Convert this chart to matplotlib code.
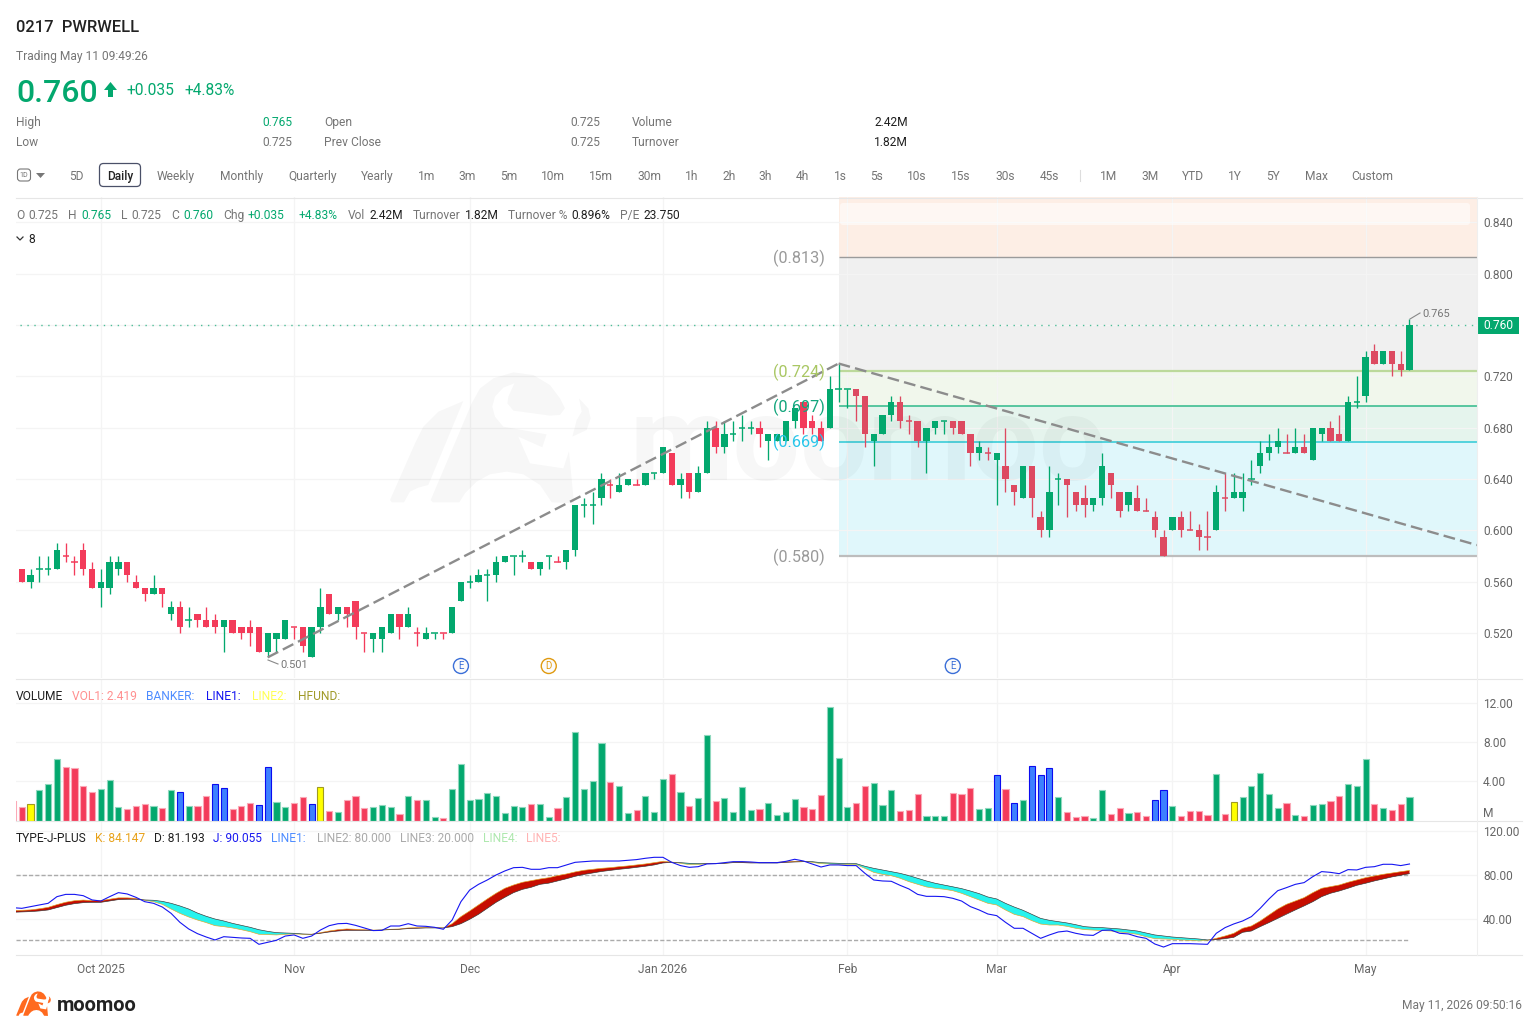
"""Daily candlestick screen for 0217 PWRWELL: price + fib levels, volume, KDJ."""

import matplotlib

matplotlib.use("Agg")
import matplotlib.pyplot as plt
from matplotlib.patches import FancyBboxPatch, Polygon, Rectangle, Circle

plt.rcParams["font.family"] = ["Roboto", "DejaVu Sans"]

W, H = 1538, 1031
GREEN = "#03a86e"
RED = "#f33b5a"
RED_FIB = "#dd4a61"  # the fib shading sits over the candles and mutes the red
TEXT = "#1f1f1f"
GRAY = "#757575"
TICK = "#666666"
GRID = "#f4f4f4"

OPEN = [
    .575, .570, .560, .570, .570, .570, .580, .575, .585, .570,
    .555, .555, .570, .575, .560, .555, .550, .555, .535, .540,
    .530, .535, .530, .530, .525, .530, .525, .525, .525, .505,
    .515, .515, .525, .525, .501, .525, .550, .535, .540, .545,
    .520, .515, .515, .520, .535, .525, .520, .515, .520, .520,
    .520, .545, .560, .560, .565, .565, .575, .580, .580, .575,
    .570, .580, .575, .575, .585, .620, .620, .625, .635, .630,
    .635, .635, .635, .645, .645, .660, .635, .645, .630, .645,
    .680, .665, .675, .680, .680, .680, .670, .670, .670, .685,
    .700, .685, .680, .680, .710, .710, .710, .705, .670, .675,
    .690, .700, .685, .685, .670, .680, .685, .685, .685, .675,
    .660, .660, .655, .650, .635, .625, .650, .610, .600, .640,
    .640, .630, .625, .620, .625, .645, .630, .620, .625, .615,
    .610, .595, .600, .610, .600, .600, .595, .600, .625, .625,
    .625, .640, .650, .660, .665, .660, .660, .665, .655, .675,
    .680, .675, .670, .700, .705, .740, .730, .740, .730, .725,
]
HIGH = [
    .575, .570, .570, .580, .580, .590, .590, .580, .590, .575,
    .570, .580, .580, .575, .565, .555, .565, .555, .545, .545,
    .540, .535, .540, .535, .530, .530, .525, .530, .525, .520,
    .520, .530, .525, .525, .525, .555, .550, .540, .540, .545,
    .520, .520, .525, .535, .535, .540, .525, .525, .520, .520,
    .540, .560, .565, .570, .570, .580, .580, .580, .585, .575,
    .575, .580, .580, .585, .620, .625, .630, .645, .640, .645,
    .640, .640, .645, .645, .665, .660, .645, .645, .650, .685,
    .685, .685, .685, .690, .685, .685, .675, .675, .685, .695,
    .700, .690, .685, .720, .730, .710, .710, .705, .675, .690,
    .705, .705, .690, .685, .680, .685, .685, .685, .685, .675,
    .670, .665, .660, .680, .635, .650, .650, .615, .650, .645,
    .640, .630, .635, .625, .660, .645, .630, .630, .635, .625,
    .615, .600, .610, .615, .615, .605, .615, .635, .645, .645,
    .645, .655, .670, .675, .680, .675, .680, .675, .680, .680,
    .685, .690, .705, .720, .740, .745, .740, .740, .740, .765,
]
LOW = [
    .570, .560, .555, .560, .565, .570, .575, .565, .565, .555,
    .540, .550, .565, .560, .555, .545, .550, .540, .530, .520,
    .525, .525, .525, .520, .505, .520, .515, .510, .505, .501,
    .505, .515, .515, .505, .501, .520, .535, .530, .525, .515,
    .505, .505, .505, .520, .515, .525, .510, .515, .515, .515,
    .520, .545, .555, .560, .545, .560, .575, .565, .575, .570,
    .565, .570, .575, .570, .580, .610, .605, .620, .625, .630,
    .635, .635, .635, .640, .645, .635, .625, .625, .630, .645,
    .660, .660, .670, .670, .675, .665, .655, .670, .670, .680,
    .675, .675, .670, .680, .700, .695, .685, .665, .650, .675,
    .685, .680, .675, .665, .645, .675, .675, .675, .675, .650,
    .655, .655, .620, .630, .620, .625, .610, .595, .595, .620,
    .610, .615, .610, .615, .620, .625, .610, .615, .615, .615,
    .595, .580, .600, .595, .600, .585, .585, .600, .615, .625,
    .615, .635, .645, .655, .660, .660, .660, .660, .655, .670,
    .670, .670, .670, .695, .700, .730, .730, .720, .720, .725,
]
CLOSE = [
    .570, .560, .565, .570, .570, .585, .580, .575, .570, .555,
    .560, .575, .575, .565, .555, .550, .555, .550, .540, .525,
    .530, .530, .525, .525, .530, .520, .520, .520, .505, .520,
    .520, .530, .525, .510, .525, .540, .535, .540, .535, .525,
    .520, .520, .525, .535, .525, .535, .520, .520, .520, .520,
    .540, .560, .560, .565, .565, .575, .580, .580, .580, .570,
    .575, .580, .575, .585, .620, .620, .620, .640, .635, .635,
    .640, .635, .645, .645, .665, .635, .640, .630, .645, .680,
    .665, .675, .675, .680, .680, .675, .675, .675, .685, .695,
    .680, .680, .670, .710, .710, .710, .705, .675, .675, .690,
    .700, .685, .685, .670, .680, .685, .685, .680, .675, .660,
    .665, .660, .660, .640, .630, .650, .625, .600, .630, .640,
    .635, .620, .620, .625, .650, .635, .615, .630, .615, .615,
    .600, .580, .610, .600, .600, .595, .595, .630, .625, .630,
    .630, .640, .660, .665, .670, .660, .665, .660, .680, .680,
    .670, .670, .700, .700, .735, .730, .740, .730, .725, .760,
]
# open == close candles the chart paints red
RED_DOJI = [6, 7, 32, 40, 46, 49, 62, 68, 71, 102, 111, 129, 134, 136, 138, 145]

VOLUME = [
    2.00, 1.37, 1.71, 3.08, 3.69, 6.32, 5.44, 5.37, 3.49, 2.87,
    3.21, 4.17, 1.40, 1.16, 1.50, 1.74, 1.50, 1.26, 3.15, 2.97,
    1.50, 1.50, 2.53, 3.76, 3.38, 1.13, 1.47, 1.81, 1.61, 5.44,
    1.91, 1.40, 1.78, 2.39, 1.71, 3.42, 0.99, 0.92, 2.09, 2.53,
    1.30, 1.37, 1.61, 1.40, 0.68, 2.53, 2.15, 2.15, 0.34, 0.21,
    3.18, 5.81, 2.05, 2.22, 2.84, 2.56, 0.79, 1.50, 1.37, 1.71,
    1.68, 0.34, 1.30, 2.43, 9.09, 3.18, 4.07, 7.93, 3.97, 3.52,
    0.79, 1.09, 2.53, 0.89, 4.27, 4.79, 2.94, 1.50, 2.26, 8.72,
    2.02, 2.29, 0.85, 3.45, 1.03, 1.20, 1.81, 0.55, 0.82, 2.22,
    1.40, 1.13, 2.60, 11.60, 6.43, 1.40, 1.78, 3.56, 3.83, 1.61,
    3.08, 0.99, 1.03, 2.70, 0.44, 0.48, 0.48, 2.80, 2.67, 3.28,
    1.13, 1.23, 4.68, 3.18, 1.81, 2.12, 5.61, 4.68, 5.40, 2.36,
    0.89, 0.38, 0.48, 0.24, 3.08, 0.62, 1.30, 0.79, 0.89, 0.51,
    2.12, 3.15, 1.50, 0.41, 0.96, 0.96, 0.55, 4.72, 0.62, 1.85,
    2.36, 3.56, 4.82, 2.67, 1.23, 1.81, 0.58, 0.41, 1.57, 1.74,
    1.98, 2.53, 3.69, 3.49, 6.29, 1.71, 1.30, 1.03, 1.71, 2.419,
]
VOL_KIND = (
    "rrygggrrrr" "gggrrrgrgb" "grrbbrrrbb" "ggrrbyrgrr" "rgggrgrggr"
    "gggggggggr" "ggrgggggrg" "grgggrgrgg" "rggggrgggg" "rrrgggrrgg"
    "grrrgggrrr" "ggbrbgbbbg" "rrrggrrgrr" "bbgrrrrgry" "gggggrgrgg"
    "rrgggrgrrg"
)

K_LINE = [
    47.5, 47.6, 48.0, 49.0, 50.3, 52.8, 55.0, 56.4, 57.0, 56.5,
    56.5, 57.8, 59.0, 59.0, 58.6, 56.8, 55.5, 53.1, 48.8, 44.8,
    41.5, 38.7, 36.3, 33.5, 32.6, 31.4, 29.8, 28.0, 25.6, 25.3,
    25.0, 25.6, 25.9, 25.6, 25.6, 27.1, 28.6, 29.8, 30.5, 30.2,
    29.8, 29.5, 29.5, 30.2, 30.5, 31.4, 31.7, 31.7, 31.7, 31.4,
    35.3, 41.8, 47.0, 52.5, 58.0, 63.2, 67.8, 70.8, 73.3, 74.8,
    76.3, 77.5, 79.4, 80.9, 82.8, 84.3, 85.2, 86.1, 86.7, 87.6,
    88.3, 89.2, 90.1, 91.3, 92.5, 91.9, 90.7, 89.5, 89.5, 90.4,
    90.4, 90.7, 91.6, 91.9, 91.6, 91.3, 91.3, 91.6, 92.2, 92.5,
    92.5, 91.6, 90.4, 90.1, 89.8, 89.5, 89.5, 86.1, 82.4, 80.6,
    79.4, 77.0, 73.9, 71.4, 69.0, 67.8, 66.9, 65.6, 63.2, 60.1,
    57.1, 54.0, 52.5, 47.9, 43.9, 41.8, 38.1, 35.0, 34.1, 34.1,
    32.9, 31.1, 29.9, 29.5, 29.2, 28.6, 27.7, 26.8, 25.6, 23.4,
    21.6, 21.3, 21.0, 20.4, 20.1, 19.5, 20.1, 21.9, 24.0, 26.5,
    31.1, 33.2, 37.8, 43.3, 48.8, 53.1, 56.1, 59.2, 63.8, 67.8,
    69.3, 70.8, 73.3, 75.4, 77.5, 79.1, 80.6, 81.8, 83.1, 84.147,
]
D_LINE = [
    45.8, 46.1, 46.4, 47.0, 47.9, 50.0, 52.2, 53.7, 54.6, 54.9,
    54.9, 56.1, 57.4, 57.7, 57.7, 57.1, 56.8, 55.8, 54.0, 51.6,
    48.8, 45.1, 42.1, 39.6, 37.8, 35.6, 33.8, 32.0, 29.8, 28.3,
    27.1, 26.8, 26.5, 25.9, 25.6, 26.5, 27.7, 28.6, 29.2, 29.2,
    29.2, 29.2, 29.5, 29.8, 30.2, 30.8, 31.1, 31.4, 31.4, 31.4,
    32.6, 35.3, 39.3, 43.9, 49.4, 54.9, 59.5, 63.8, 66.8, 68.7,
    71.4, 72.5, 74.5, 76.5, 78.8, 80.5, 81.8, 83.2, 84.2, 85.2,
    86.0, 87.0, 88.0, 89.2, 91.0, 91.6, 91.3, 90.7, 90.4, 90.4,
    90.4, 90.7, 91.3, 91.3, 91.0, 91.0, 91.0, 91.0, 91.6, 91.9,
    92.2, 92.2, 91.3, 91.0, 90.7, 90.4, 90.4, 88.0, 86.1, 84.6,
    83.1, 81.5, 79.4, 77.0, 74.5, 72.4, 70.8, 69.3, 67.5, 65.3,
    62.9, 59.8, 58.0, 54.0, 50.6, 47.6, 43.9, 40.2, 38.4, 37.2,
    36.0, 34.4, 32.6, 32.0, 31.7, 31.1, 30.5, 29.5, 28.6, 26.8,
    25.0, 24.0, 23.1, 22.5, 21.9, 21.3, 20.4, 20.7, 21.6, 22.8,
    27.4, 28.6, 32.6, 36.3, 40.2, 44.2, 47.9, 51.6, 55.5, 60.1,
    63.2, 65.3, 67.8, 70.5, 72.4, 74.5, 76.3, 78.2, 79.7, 81.193,
]
J_LINE = [
    50.0, 49.4, 51.0, 52.5, 54.0, 60.1, 62.2, 62.2, 61.0, 57.1,
    56.1, 60.1, 63.8, 62.6, 59.5, 55.5, 54.0, 50.6, 44.8, 36.6,
    30.5, 26.2, 23.1, 20.4, 23.4, 22.8, 22.2, 21.9, 16.4, 18.2,
    20.1, 24.0, 25.0, 21.9, 24.0, 29.5, 33.5, 35.3, 35.6, 33.8,
    31.4, 29.0, 29.2, 33.2, 33.2, 35.3, 33.2, 32.9, 32.0, 30.2,
    38.7, 55.5, 66.2, 71.4, 75.4, 80.0, 83.7, 86.7, 87.0, 85.2,
    85.2, 86.7, 86.7, 89.2, 91.6, 92.2, 92.8, 92.8, 92.8, 92.8,
    93.5, 94.1, 95.3, 96.2, 96.2, 91.6, 88.6, 87.0, 87.6, 90.1,
    90.4, 91.3, 92.2, 92.2, 91.9, 91.3, 91.3, 91.3, 92.5, 94.4,
    92.8, 90.1, 87.3, 89.2, 89.2, 88.6, 88.6, 81.5, 75.4, 74.5,
    74.2, 70.5, 67.2, 62.2, 60.4, 60.4, 60.1, 58.6, 56.1, 51.0,
    47.9, 44.2, 42.7, 36.6, 31.1, 31.1, 26.5, 21.9, 25.0, 27.7,
    28.6, 26.5, 25.0, 24.6, 29.2, 29.5, 26.5, 25.9, 23.4, 21.9,
    16.7, 13.9, 17.0, 17.0, 17.0, 16.7, 16.4, 26.5, 31.7, 35.1,
    37.8, 41.8, 49.4, 58.0, 65.6, 68.4, 71.4, 73.0, 78.5, 83.1,
    82.4, 81.2, 84.9, 84.6, 87.0, 87.6, 89.8, 89.8, 88.6, 90.055,
]

PRICE_TICKS = [0.84, 0.80, 0.76, 0.72, 0.68, 0.64, 0.60, 0.56, 0.52]
PRICE_TICK_LABELS = ["0.840", "0.800", "", "0.720", "0.680", "0.640", "0.600", "0.560", "0.520"]
VOL_TICKS = [12, 8, 4]
KDJ_TICKS = [120, 80, 40]
MONTH_IDX = [10, 32, 52, 74, 95, 112, 132, 154]
MONTH_LABELS = ["Oct 2025", "Nov", "Dec", "Jan 2026", "Feb", "Mar", "Apr", "May"]
FIB_LEVELS = [0.813, 0.724, 0.697, 0.669, 0.580]
FIB_LABELS = ["(0.813)", "(0.724)", "(0.697)", "(0.669)", "(0.580)"]
FIB_TEXT = ["#9a9a9a", "#a9c763", "#12a57c", "#28c6ea", "#9a9a9a"]
FIB_LINE = ["#9b9b9b", "#bcd99b", "#2fb98a", "#2dc9d6", "#bdbdbd"]
FIB_WIDTH = [1.0, 1.6, 1.1, 1.1, 1.6]
FIB_FILL = ["#fdeee5", "#f0f0f0", "#f1f7ec", "#e5f4ed", "#e0f7fb"]
TREND_IDX = [29, 94, 166.68]
TREND_PRICE = [0.501, 0.730, 0.5885]
EVENT_IDX = [51, 61, 107]
EVENT_TEXT = ["E", "D", "E"]
EVENT_COLOR = ["#3b6fd8", "#e09a10", "#3b6fd8"]

# bull mark outline, in its own 690x450 drawing box
BULL_WING = [(30, 405), (105, 235), (130, 185), (175, 140), (250, 108), (145, 360), (115, 368),
             (90, 380), (72, 412), (35, 412)]
BULL_BODY = [(152, 405), (275, 115), (300, 70), (340, 40), (400, 22), (460, 30), (510, 60), (540, 100),
             (555, 130), (540, 150), (510, 152), (400, 137), (382, 115), (385, 95), (403, 55), (370, 68),
             (345, 95), (337, 125), (345, 155), (370, 185), (500, 208), (487, 247), (415, 215), (450, 295),
             (550, 310), (567, 258), (582, 415), (515, 412), (480, 360), (430, 328), (380, 320), (330, 328),
             (290, 350), (255, 385), (238, 412), (158, 412)]
BULL_EAR = [(597, 100), (625, 130), (632, 160), (620, 195), (577, 215), (590, 165), (605, 140)]

X0, DX = 13.0, 8.783
FIRST_FIB = 94
XLIM = ((16 - X0) / DX, (1477 - X0) / DX)
idx = list(range(len(CLOSE)))


def px_axes(left, top, right, bottom, ylim):
    a = fig.add_axes([left / W, 1 - bottom / H, (right - left) / W, (bottom - top) / H])
    a.set_xlim(*XLIM)
    a.set_ylim(*ylim)
    a.set_xticks(MONTH_IDX)
    a.set_xticklabels([])
    a.yaxis.tick_right()
    a.tick_params(length=0, labelsize=8.6, labelcolor=TICK, pad=4.3)
    a.grid(True, color=GRID, lw=0.9)
    a.set_axisbelow(True)
    for s in a.spines.values():
        s.set_visible(False)
    a.patch.set_alpha(0)
    return a


def ui(x, y, s, color=TEXT, size=12, ha="left", weight="normal", va="center"):
    over.text(x, y + 0.9, s, color=color, fontsize=size * 0.72, ha=ha, va=va, fontweight=weight)


def bull(points, x0, y0, scale_x, scale_y):
    return [(x0 + x * scale_x, y0 + y * scale_y) for x, y in points]


fig = plt.figure(figsize=(W / 100, H / 100), dpi=100, facecolor="white")
over = fig.add_axes([0, 0, 1, 1], zorder=10)
over.set_xlim(0, W)
over.set_ylim(H, 0)
over.axis("off")
over.patch.set_alpha(0)

# --- price panel ---
ax = px_axes(16, 197, 1477, 678, (0.4849, 0.8598))
ax.set_yticks(PRICE_TICKS)
ax.set_yticklabels(PRICE_TICK_LABELS)

tops = [ax.get_ylim()[1]] + FIB_LEVELS[:-1]
for top, bot, col in zip(tops, FIB_LEVELS, FIB_FILL):
    ax.add_patch(Rectangle((FIRST_FIB, bot), XLIM[1] - FIRST_FIB, top - bot, fc=col, ec="none", zorder=0.5))
for lev, col, lw, lab, tcol in zip(FIB_LEVELS, FIB_LINE, FIB_WIDTH, FIB_LABELS, FIB_TEXT):
    ax.plot([FIRST_FIB, XLIM[1]], [lev, lev], color=col, lw=lw, zorder=1.2, solid_capstyle="butt")
    ax.text(FIRST_FIB - 1.6, lev - 0.0008, lab, color=tcol, fontsize=11.7, ha="right", va="center", zorder=4)
ax.add_patch(
    FancyBboxPatch(
        (840, 203), 630, 22, boxstyle="round,pad=0,rounding_size=3",
        fc="white", ec="none", alpha=0.55, transform=over.transData, zorder=1.1,
    )
)

# watermark
mark = dict(fc="black", ec="none", alpha=0.03, transform=over.transData, zorder=1.3)
for shape in (BULL_WING, BULL_BODY, BULL_EAR):
    ax.add_patch(Polygon(bull(shape, 380, 365, 1 / 3, 1 / 3), **mark))
ax.text(630, 480, "moomoo", color="black", alpha=0.03, fontsize=86, fontweight="bold",
        transform=over.transData, va="baseline", ha="left", zorder=1.3)

ax.plot([0, 166.68], [0.76, 0.76], color="#4dbd97", lw=1.0, ls=(0, (1, 4)), zorder=1.4)
ax.plot(TREND_IDX[:2], TREND_PRICE[:2], color="#8c8c8c", lw=1.7, ls=(0, (5, 2.2)), zorder=3)
ax.plot(TREND_IDX[1:], TREND_PRICE[1:], color="#8c8c8c", lw=1.7, ls=(0, (5, 2.2)), zorder=3)

for i, o, h, l, c in zip(idx, OPEN, HIGH, LOW, CLOSE):
    down = o > c or i in RED_DOJI
    col = (RED_FIB if i >= FIRST_FIB else RED) if down else GREEN
    ax.plot([i, i], [l, h], color=col, lw=0.95, zorder=2, solid_capstyle="butt")
    if o == c:
        ax.plot([i - 0.36, i + 0.36], [o, o], color=col, lw=1.1, zorder=2.1, solid_capstyle="butt")
    else:
        ax.bar(i, abs(o - c), bottom=min(o, c), width=0.72, color=col, zorder=2.1, lw=0)

for i, txt, col in zip(EVENT_IDX, EVENT_TEXT, EVENT_COLOR):
    px = X0 + DX * i
    over.add_patch(Circle((px, 666), 7.5, fc="#fbfbfb", ec=col, lw=1.0))
    over.text(px, 666, txt, color=col, fontsize=7, ha="center", va="center")

ui(280, 664, "0.501", GRAY, 11)
over.plot([268, 278], [660, 664], color="#888888", lw=0.8)
ui(1422, 313, "0.765", GRAY, 11)
over.plot([1410, 1420], [319, 313], color="#888888", lw=0.8)
over.add_patch(Rectangle((1478, 317), 41, 17, fc=GREEN, ec="none"))
ui(1498.5, 325, "0.760", "white", 12, ha="center")

# --- volume panel ---
vax = px_axes(16, 680, 1477, 820.5, (0, 14.4))
vax.set_yticks(VOL_TICKS)
vax.set_yticklabels([f"{v:.2f}" for v in VOL_TICKS])
FACE = {"g": GREEN, "r": RED, "b": "#3d80ff", "y": "#ffff00"}
EDGE = {"g": "#8fd8be", "r": "#fba9b7", "b": "#0b0bf0", "y": "#a09c20"}
for i, v, kind in zip(idx, VOLUME, VOL_KIND):
    vax.bar(i, v, width=0.70, color=FACE[kind], edgecolor=EDGE[kind], lw=0.8, zorder=2)
ui(1483, 813, "M", TICK, 12)

# --- KDJ panel ---
kax = px_axes(16, 821, 1477, 955, (6.6, 129.5))
kax.set_yticks(KDJ_TICKS)
kax.set_yticklabels([f"{v:.2f}" for v in KDJ_TICKS])
kax.set_xticklabels(MONTH_LABELS)
kax.tick_params(axis="x", pad=6)
for lev in (80, 20):
    kax.plot([XLIM[0], idx[-1]], [lev, lev], color="#ababab", lw=1.0, ls=(0, (3, 1.5)), zorder=1.5)
kax.fill_between(idx, K_LINE, D_LINE, where=[k >= d for k, d in zip(K_LINE, D_LINE)],
                 interpolate=True, color="#c60d00", lw=0, zorder=2)
kax.fill_between(idx, K_LINE, D_LINE, where=[k < d for k, d in zip(K_LINE, D_LINE)],
                 interpolate=True, color="#27f3ee", lw=0, zorder=2)
kax.plot(idx, K_LINE, color="#e2a526", lw=0.45, zorder=3)
kax.plot(idx, D_LINE, color="#333333", lw=0.45, zorder=3)
kax.plot(idx, J_LINE, color="#1616f2", lw=0.8, zorder=3)

# --- frame lines ---
for y in (197.5, 678.5, 820.5, 955):
    over.plot([16, 1522], [y, y], color="#e6e6e6", lw=0.8)
over.plot([1477, 1477], [197, 955], color="#efefef", lw=0.8)

# --- header ---
ui(16, 27, "0217  PWRWELL", "#222222", 16.5, weight="medium")
ui(16, 56, "Trading May 11 09:49:26", GRAY, 12)
ui(16, 93, "0.760", GREEN, 32, weight="medium")
over.add_patch(Polygon([(110.5, 82), (117, 90), (113, 90), (113, 97), (108, 97), (108, 90), (104, 90)], fc=GREEN, ec="none"))
ui(126, 89.5, "+0.035", GREEN, 15.5)
ui(184, 89.5, "+4.83%", GREEN, 15.5)

ui(16, 122, "High", GRAY, 12)
ui(292, 122, "0.765", GREEN, 12, ha="right")
ui(324, 122, "Open", GRAY, 12)
ui(600, 122, "0.725", GRAY, 12, ha="right")
ui(632, 122, "Volume", GRAY, 12)
ui(908, 122, "2.42M", TEXT, 12, ha="right")
ui(16, 142, "Low", GRAY, 12)
ui(292, 142, "0.725", GRAY, 12, ha="right")
ui(324, 142, "Prev Close", GRAY, 12)
ui(600, 142, "0.725", GRAY, 12, ha="right")
ui(632, 142, "Turnover", GRAY, 12)
ui(908, 142, "1.82M", TEXT, 12, ha="right")

# period tabs
TAB_X = [76, 176, 242, 313, 377, 427, 467, 509, 553, 601, 649, 692, 729, 765, 802, 840,
         877, 917, 961, 1005, 1049, 1109, 1150, 1193, 1235, 1273, 1316, 1372]
TAB_TXT = ["5D", "Weekly", "Monthly", "Quarterly", "Yearly", "1m", "3m", "5m", "10m", "15m", "30m",
           "1h", "2h", "3h", "4h", "1s", "5s", "10s", "15s", "30s", "45s", "1M", "3M", "YTD", "1Y",
           "5Y", "Max", "Custom"]
for x, t in zip(TAB_X, TAB_TXT):
    ui(x, 175.5, t, GRAY, 12, ha="center")
over.add_patch(FancyBboxPatch((99.5, 163.5), 41, 23, boxstyle="round,pad=0,rounding_size=4",
                              fc="white", ec="#4a5068", lw=0.9))
ui(120, 175.5, "Daily", "#222222", 12, ha="center", weight="medium")
over.add_patch(FancyBboxPatch((17.5, 169), 13, 12, boxstyle="round,pad=0,rounding_size=3",
                              fc="white", ec="#777777", lw=0.8))
ui(24, 174.5, "1D", GRAY, 7, ha="center")
over.add_patch(Polygon([(36, 173), (45, 173), (40.5, 178)], fc="#777777", ec="none"))
over.plot([1079.5, 1079.5], [170, 181], color="#dddddd", lw=0.8)

# quote strip
STRIP = [
    (16, "O", GRAY), (28, "0.725", GRAY), (68, "H", GRAY), (81, "0.765", GREEN),
    (121, "L", GRAY), (131, "0.725", GRAY), (171, "C", GRAY), (183, "0.760", GREEN),
    (223, "Chg", GRAY), (248, "+0.035", GREEN), (299, "+4.83%", GREEN), (348, "Vol", GRAY),
    (369, "2.42M", TEXT), (413, "Turnover", GRAY), (465, "1.82M", TEXT), (508, "Turnover %", GRAY),
    (571, "0.896%", TEXT), (620, "P/E", GRAY), (643, "23.750", TEXT),
]
for x, t, c in STRIP:
    ui(x, 214.5, t, c, 12)
over.plot([17, 20, 23], [237, 240, 237], color="#333333", lw=0.9)
ui(28, 238.5, "8", TEXT, 12)

# indicator legends
VOL_LEGEND = [(16, "VOLUME", TEXT), (72, "VOL1: 2.419", "#ff8f8f"), (146, "BANKER:", "#4d8cff"),
              (206, "LINE1:", "#1414f0"), (252, "LINE2:", "#ffff55"), (298, "HFUND:", "#a09a28")]
for x, t, c in VOL_LEGEND:
    ui(x, 695.5, t, c, 12)
KDJ_LEGEND = [(16, "TYPE-J-PLUS", TEXT), (95, "K: 84.147", "#e8a21a"), (154, "D: 81.193", TEXT),
              (213, "J: 90.055", "#1a1af0"), (271, "LINE1:", "#4d8cff"), (317, "LINE2: 80.000", "#aaaaaa"),
              (400, "LINE3: 20.000", "#aaaaaa"), (483, "LINE4:", "#aee8ae"), (526, "LINE5:", "#ffb3b3")]
for x, t, c in KDJ_LEGEND:
    ui(x, 838, t, c, 12)

# footer logo + stamp
for shape in (BULL_WING, BULL_BODY, BULL_EAR):
    over.add_patch(Polygon(bull(shape, 14.5, 990, 0.0575, 0.0625), fc="#ff6a1f", ec="none"))
ui(57, 1005, "moomoo", "#222222", 20, weight="bold")
ui(1522, 1005, "May 11, 2026 09:50:16", GRAY, 12, ha="right")

fig.savefig("out.png", dpi=100, facecolor="white")
